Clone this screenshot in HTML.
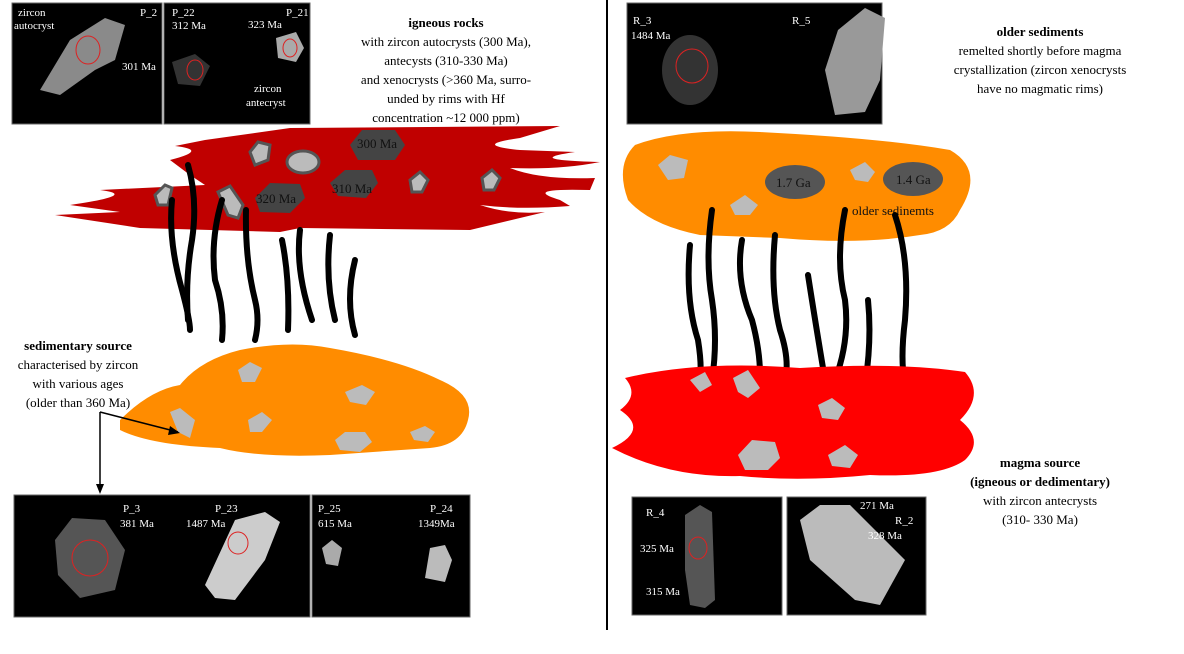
<!DOCTYPE html>
<html><head><style>
body{margin:0;width:1184px;height:654px;background:#fff;overflow:hidden;font-family:"Liberation Serif",serif}
svg{position:absolute;left:0;top:0}
</style></head><body>
<svg width="1184" height="654" viewBox="0 0 1184 654" font-family="Liberation Serif, serif">
<line x1="607" y1="0" x2="607" y2="630" stroke="#000" stroke-width="2"/>

<!-- top-left images -->
<rect x="12" y="3" width="150" height="121" fill="#000" stroke="#666"/>
<rect x="164" y="3" width="146" height="121" fill="#000" stroke="#666"/>
<polygon points="40,90 70,40 105,18 125,25 115,60 95,70 60,95" fill="#8a8a8a"/>
<ellipse cx="88" cy="50" rx="12" ry="14" fill="none" stroke="#d22"/>
<polygon points="172,62 195,54 210,66 200,86 178,84" fill="#333"/>
<ellipse cx="195" cy="70" rx="8" ry="10" fill="none" stroke="#d22"/>
<polygon points="276,38 296,32 304,48 296,62 278,58" fill="#aaa"/>
<ellipse cx="290" cy="48" rx="7" ry="9" fill="none" stroke="#d22"/>
<g fill="#fff" font-size="11">
<text x="18" y="16">zircon</text><text x="14" y="29">autocryst</text>
<text x="140" y="16">P_2</text><text x="122" y="70">301 Ma</text>
<text x="172" y="16">P_22</text><text x="172" y="29">312 Ma</text>
<text x="286" y="16">P_21</text><text x="248" y="28">323 Ma</text>
<text x="254" y="92">zircon</text><text x="246" y="106">antecryst</text>
</g>

<!-- igneous text -->
<g font-size="13" text-anchor="middle" fill="#000">
<text x="446" y="27" font-weight="bold">igneous rocks</text>
<text x="446" y="46">with zircon autocrysts (300 Ma),</text>
<text x="446" y="65">antecysts (310-330 Ma)</text>
<text x="446" y="84">and xenocrysts (&gt;360 Ma, surro-</text>
<text x="446" y="103">unded by rims with Hf</text>
<text x="446" y="122">concentration ~12 000 ppm)</text>
</g>

<!-- red blob top-left -->
<path d="M290,128 L560,126 L520,138 Q470,145 520,150 L575,152 Q520,160 600,162 Q560,170 510,168 Q540,180 595,178 L590,190 Q520,188 560,200 L570,206 Q520,210 480,205 Q510,215 545,212 L470,230 L300,228 L280,232 L140,228 L55,215 L120,212 L70,205 Q140,195 100,190 L205,185 L190,175 L170,160 Q210,150 175,146 L205,140 Z" fill="#c00000"/>
<g stroke="#555" stroke-width="3" fill="#bbb">
<polygon points="250,152 258,142 270,145 268,160 255,165"/>
<ellipse cx="303" cy="162" rx="16" ry="11"/>
<polygon points="410,180 420,172 428,180 422,192 412,192"/>
<polygon points="482,178 492,170 500,178 494,190 484,190"/>
<polygon points="155,195 165,185 172,188 168,205 158,205"/>
<polygon points="218,192 230,186 243,205 238,218 228,215"/>
</g>
<g fill="#444">
<polygon points="350,145 362,130 395,130 405,145 395,160 358,160"/>
<polygon points="330,183 345,170 372,170 378,183 366,198 338,196"/>
<polygon points="255,198 270,183 300,184 305,198 290,213 260,212"/>
</g>
<g font-size="13" fill="#111">
<text x="357" y="148">300 Ma</text><text x="332" y="193">310 Ma</text><text x="256" y="203">320 Ma</text>
</g>

<!-- black wavy lines left -->
<g stroke="#000" stroke-width="6" fill="none" stroke-linecap="round">
<path d="M188,165 Q198,200 192,240 Q185,280 188,320"/>
<path d="M172,200 Q168,240 182,290 Q190,320 190,330"/>
<path d="M222,200 Q210,240 215,280 Q225,310 222,340"/>
<path d="M246,210 Q245,260 255,300 Q260,320 255,340"/>
<path d="M282,240 Q290,280 288,330"/>
<path d="M330,235 Q325,280 335,320"/>
<path d="M355,260 Q345,300 355,335"/>
<path d="M300,230 Q295,270 312,320"/>
</g>

<!-- orange blob left -->
<path d="M120,420 Q150,390 180,385 Q200,360 240,350 Q290,340 330,348 Q400,360 440,380 Q475,395 468,420 Q462,445 430,448 L330,455 Q260,458 220,448 Q150,445 120,430 Z" fill="#ff8c00"/>
<g fill="#bbb">
<polygon points="238,370 250,362 262,368 255,382 242,382"/>
<polygon points="170,412 180,408 195,420 190,438 178,432"/>
<polygon points="248,420 262,412 272,420 262,432 250,432"/>
<polygon points="345,392 362,385 375,392 366,405 350,402"/>
<polygon points="335,440 345,432 365,432 372,442 360,452 340,450"/>
<polygon points="410,432 425,426 435,432 428,442 414,440"/>
</g>
<g font-size="13" text-anchor="middle" fill="#000">
<text x="78" y="350" font-weight="bold">sedimentary source</text>
<text x="78" y="369">characterised by zircon</text>
<text x="78" y="388">with various ages</text>
<text x="78" y="407">(older than 360 Ma)</text>
</g>
<g stroke="#000" stroke-width="1.5" fill="none">
<path d="M100,412 L178,432"/><path d="M100,412 L100,490"/>
</g>
<polygon points="180,433 170,426 168,435" fill="#000"/>
<polygon points="100,494 96,484 104,484" fill="#000"/>

<!-- bottom-left images -->
<rect x="14" y="495" width="296" height="122" fill="#000" stroke="#666"/>
<rect x="312" y="495" width="158" height="122" fill="#000" stroke="#666"/>
<polygon points="55,540 72,518 105,520 125,550 115,590 80,598 58,575" fill="#555"/>
<ellipse cx="90" cy="558" rx="18" ry="18" fill="none" stroke="#d22"/>
<polygon points="205,585 235,520 265,512 280,522 265,560 235,600 215,598" fill="#ccc"/>
<ellipse cx="238" cy="543" rx="10" ry="11" fill="none" stroke="#d22"/>
<polygon points="322,548 332,540 342,548 338,566 326,564" fill="#aaa"/>
<polygon points="425,578 430,548 445,545 452,560 445,582" fill="#bbb"/>
<g fill="#fff" font-size="11">
<text x="123" y="512">P_3</text><text x="120" y="527">381 Ma</text>
<text x="215" y="512">P_23</text><text x="186" y="527">1487 Ma</text>
<text x="318" y="512">P_25</text><text x="318" y="527">615 Ma</text>
<text x="430" y="512">P_24</text><text x="418" y="527">1349Ma</text>
</g>

<!-- right top image -->
<rect x="627" y="3" width="255" height="121" fill="#000" stroke="#666"/>
<ellipse cx="690" cy="70" rx="28" ry="35" fill="#333"/>
<ellipse cx="692" cy="66" rx="16" ry="17" fill="none" stroke="#d22"/>
<polygon points="835,115 825,70 838,30 865,8 885,18 880,80 865,112" fill="#999"/>
<g fill="#fff" font-size="11">
<text x="633" y="24">R_3</text><text x="631" y="39">1484 Ma</text>
<text x="792" y="24">R_5</text><text x="885" y="15">1797 Ma</text><text x="887" y="79">1846 Ma</text>
</g>
<g font-size="13" text-anchor="middle" fill="#000">
<text x="1040" y="36" font-weight="bold">older sediments</text>
<text x="1040" y="55">remelted shortly before magma</text>
<text x="1040" y="74">crystallization (zircon xenocrysts</text>
<text x="1040" y="93">have no magmatic rims)</text>
</g>

<!-- orange blob right -->
<path d="M635,145 Q680,128 760,132 Q880,138 950,150 Q985,170 960,210 Q950,232 920,235 Q860,245 780,238 L700,235 Q650,225 628,200 Q615,165 635,145 Z" fill="#ff8c00"/>
<g fill="#bbb">
<polygon points="658,165 670,155 688,160 684,178 668,180"/>
<polygon points="730,205 745,195 758,205 750,215 735,215"/>
<polygon points="850,170 865,162 875,172 868,182 855,180"/>
</g>
<g fill="#555">
<ellipse cx="795" cy="182" rx="30" ry="17"/>
<ellipse cx="913" cy="179" rx="30" ry="17"/>
</g>
<g font-size="13" fill="#111">
<text x="776" y="187">1.7 Ga</text><text x="896" y="184">1.4 Ga</text>
<text x="852" y="215">older sedinemts</text>
</g>

<!-- black wavy lines right -->
<g stroke="#000" stroke-width="6" fill="none" stroke-linecap="round">
<path d="M712,210 Q705,260 712,300 Q718,340 712,380"/>
<path d="M690,245 Q685,300 698,340 Q702,365 700,380"/>
<path d="M742,240 Q735,280 752,320 Q760,350 760,375"/>
<path d="M775,235 Q770,290 780,330 Q790,360 785,380"/>
<path d="M808,275 Q815,320 825,380"/>
<path d="M845,210 Q835,260 845,300 Q850,340 835,380"/>
<path d="M868,300 Q872,340 865,385"/>
<path d="M895,215 Q910,260 905,320 Q900,360 905,385"/>
</g>

<!-- red blob right -->
<path d="M625,378 Q700,360 800,368 Q900,362 965,372 Q985,395 960,420 Q985,440 965,460 Q940,478 870,475 Q800,482 740,476 Q670,478 612,448 Q650,430 620,410 Q640,395 625,378 Z" fill="#ff0000"/>
<g fill="#bbb">
<polygon points="733,378 748,370 760,388 748,398 738,392"/>
<polygon points="690,380 705,372 712,385 700,392"/>
<polygon points="818,405 832,398 845,408 838,420 822,418"/>
<polygon points="738,455 752,440 775,442 780,458 768,470 745,470"/>
<polygon points="828,455 845,445 858,455 850,468 832,466"/>
</g>
<g font-size="13" text-anchor="middle" fill="#000">
<text x="1040" y="467" font-weight="bold">magma source</text>
<text x="1040" y="486" font-weight="bold">(igneous or dedimentary)</text>
<text x="1040" y="505">with zircon antecrysts</text>
<text x="1040" y="524">(310- 330 Ma)</text>
</g>

<!-- bottom-right images -->
<rect x="632" y="497" width="150" height="118" fill="#000" stroke="#666"/>
<rect x="787" y="497" width="139" height="118" fill="#000" stroke="#666"/>
<polygon points="685,515 700,505 712,512 715,600 705,608 690,605 685,570" fill="#555"/>
<ellipse cx="698" cy="548" rx="9" ry="11" fill="none" stroke="#d22"/>
<polygon points="800,520 820,505 850,505 905,560 880,605 855,600 810,560" fill="#bbb"/>
<g fill="#fff" font-size="11">
<text x="646" y="516">R_4</text><text x="640" y="552">325 Ma</text><text x="646" y="595">315 Ma</text>
<text x="860" y="509">271 Ma</text><text x="895" y="524">R_2</text><text x="868" y="539">328 Ma</text>
</g>
</svg>
</body></html>
